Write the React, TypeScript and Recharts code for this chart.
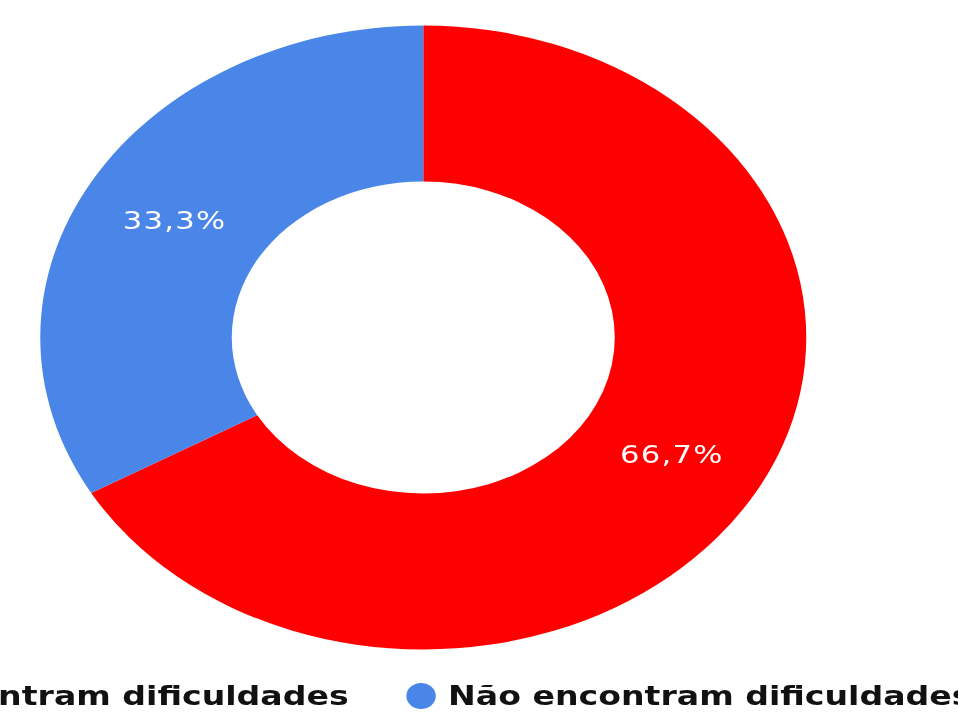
import { PieChart, Pie, Cell, Legend } from 'recharts';

// answers (Portuguese) and share of respondents, in %
const categories = ['Encontram dificuldades', 'Não encontram dificuldades'];
const shares = [66.7, 33.3];
const colors = ['#FF0000', '#4A86E8'];

const data = categories.map((name, i) => ({ name, value: shares[i] }));

// the reference is stretched horizontally, so the chart is drawn round and scaled on x
const SX = 1.2276;
const W = 958 / SX;
const H = 714;
const RADIAN = Math.PI / 180;

const renderLabel = (props: any) => {
  const { cx, cy, midAngle, innerRadius, outerRadius, percent } = props;
  const r = (innerRadius + outerRadius) / 2;
  const x = cx + r * Math.cos(-midAngle * RADIAN);
  const y = cy + r * Math.sin(-midAngle * RADIAN);
  return (
    <text
      x={x}
      y={y}
      fill="#ffffff"
      textAnchor="middle"
      dominantBaseline="central"
      fontSize={25}
      letterSpacing={1}
      fontFamily="'DejaVu Sans', sans-serif"
    >
      {(percent * 100).toFixed(1).replace('.', ',')}%
    </text>
  );
};

const legendText = { fontSize: 27, fontWeight: 700, color: '#111', fontFamily: "'DejaVu Sans', sans-serif" };

const renderLegend = () => (
  <div style={{ position: 'relative', width: W, height: 40 }}>
    <div
      style={{
        position: 'absolute',
        right: W - 284,
        top: 0,
        display: 'flex',
        alignItems: 'center',
        whiteSpace: 'nowrap',
      }}
    >
      <span style={{ width: 24, height: 26, borderRadius: '50%', background: colors[0], marginRight: 10 }} />
      <span style={legendText}>{categories[0]}</span>
    </div>
    <div
      style={{
        position: 'absolute',
        left: 331,
        top: 0,
        display: 'flex',
        alignItems: 'center',
        whiteSpace: 'nowrap',
      }}
    >
      <span style={{ width: 24, height: 26, borderRadius: '50%', background: colors[1], marginRight: 10 }} />
      <span style={legendText}>{categories[1]}</span>
    </div>
  </div>
);

export default function App() {
  return (
    <div style={{ width: 958, height: 714, overflow: 'hidden', position: 'relative', background: '#fff' }}>
      <style>{'body{margin:0}'}</style>
      <div style={{ position: 'absolute', left: 0, top: 0, transform: `scaleX(${SX})`, transformOrigin: '0 0' }}>
        <PieChart width={W} height={H}>
          <Pie
            data={data}
            dataKey="value"
            nameKey="name"
            cx={339.8}
            cy={332.5}
            innerRadius={156}
            outerRadius={312}
            startAngle={90}
            endAngle={-270}
            stroke="none"
            label={renderLabel}
            labelLine={false}
            isAnimationActive={false}
          >
            {data.map((d, i) => (
              <Cell key={d.name} fill={colors[i]} />
            ))}
          </Pie>
          <Legend
            content={renderLegend}
            wrapperStyle={{ left: 0, top: 680, width: W, height: 40 }}
          />
        </PieChart>
      </div>
    </div>
  );
}
